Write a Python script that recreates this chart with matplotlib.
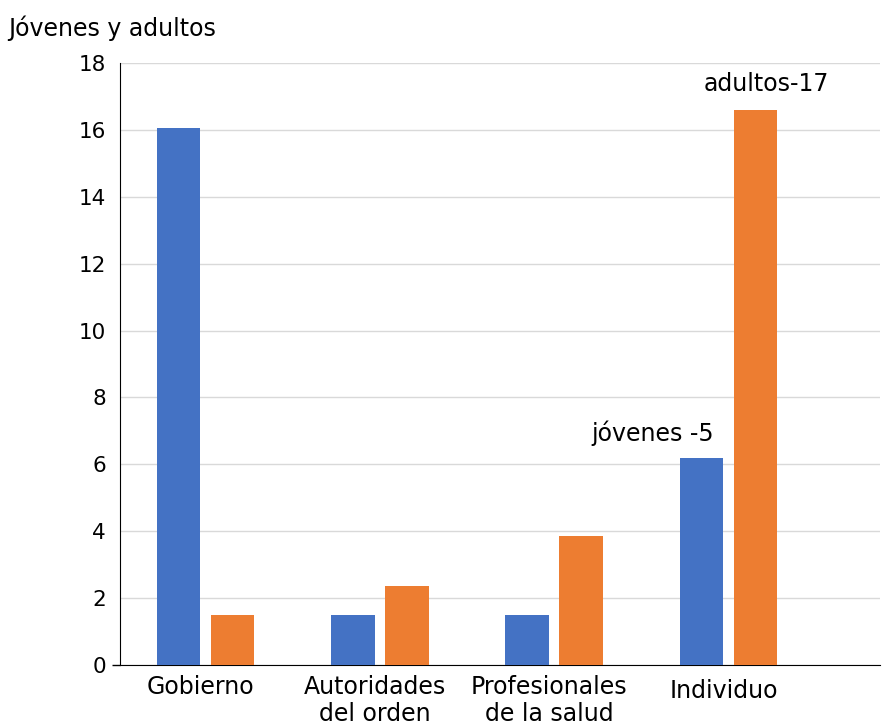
import numpy as np
import matplotlib
matplotlib.use('Agg')
import matplotlib.pyplot as plt
from matplotlib.transforms import ScaledTranslation

# Data
categories = ['Gobierno', 'Autoridades\ndel orden', 'Profesionales\nde la salud', 'Individuo']
jovenes = [16.05, 1.5, 1.5, 6.2]
adultos = [1.5, 2.35, 3.85, 16.6]
yticks = [0, 2, 4, 6, 8, 10, 12, 14, 16, 18]

blue = '#4472c4'
orange = '#ed7d31'
fs = 17

fig = plt.figure(figsize=(8.82, 7.24), dpi=100)
ax = fig.add_axes([0.136, 0.0815, 0.862, 0.8315])

x = np.arange(len(categories))
w = 0.25
off = 0.155
ax.bar(x - off, jovenes, w, color=blue, zorder=3)
ax.bar(x + off, adultos, w, color=orange, zorder=3)

ax.set_ylim(0, 18)
ax.set_xlim(-0.49, 3.87)
ax.set_yticks(yticks)
ax.set_yticklabels([str(t) for t in yticks], fontsize=15.5)
ax.set_xticks(x)
ax.set_xticklabels(categories, fontsize=fs, linespacing=1.15)
ax.tick_params(axis='x', length=0, pad=7)
ax.tick_params(axis='y', length=0, pad=10)
# only the zero tick shows a small mark
ax.yaxis.get_major_ticks()[0].tick1line.set_markersize(6)
ax.yaxis.get_major_ticks()[0].tick1line.set_markeredgewidth(1)
ax.grid(axis='y', color='#d9d9d9', linewidth=1, zorder=0)

# labels sit a bit left of the group centres
shift = ScaledTranslation(-5 / 100, 0, fig.dpi_scale_trans)
for i, lab in enumerate(ax.get_xticklabels()):
    t = lab.get_transform() + shift
    if i == 3:
        t = t + ScaledTranslation(0, -4 / 100, fig.dpi_scale_trans)
    lab.set_transform(t)

for s in ['top', 'right']:
    ax.spines[s].set_visible(False)
ax.spines['left'].set_color('black')
ax.spines['bottom'].set_color('black')

ax.text(x[3] - off - 0.28, jovenes[3] + 0.35, 'jóvenes -5', ha='center', va='bottom', fontsize=fs)
ax.text(x[3] + off + 0.06, adultos[3] + 0.4, 'adultos-17', ha='center', va='bottom', fontsize=fs)

fig.text(8 / 882, 1 - 28 / 724, 'Jóvenes y adultos', ha='left', va='center', fontsize=fs)

fig.savefig('out.png', dpi=100)
